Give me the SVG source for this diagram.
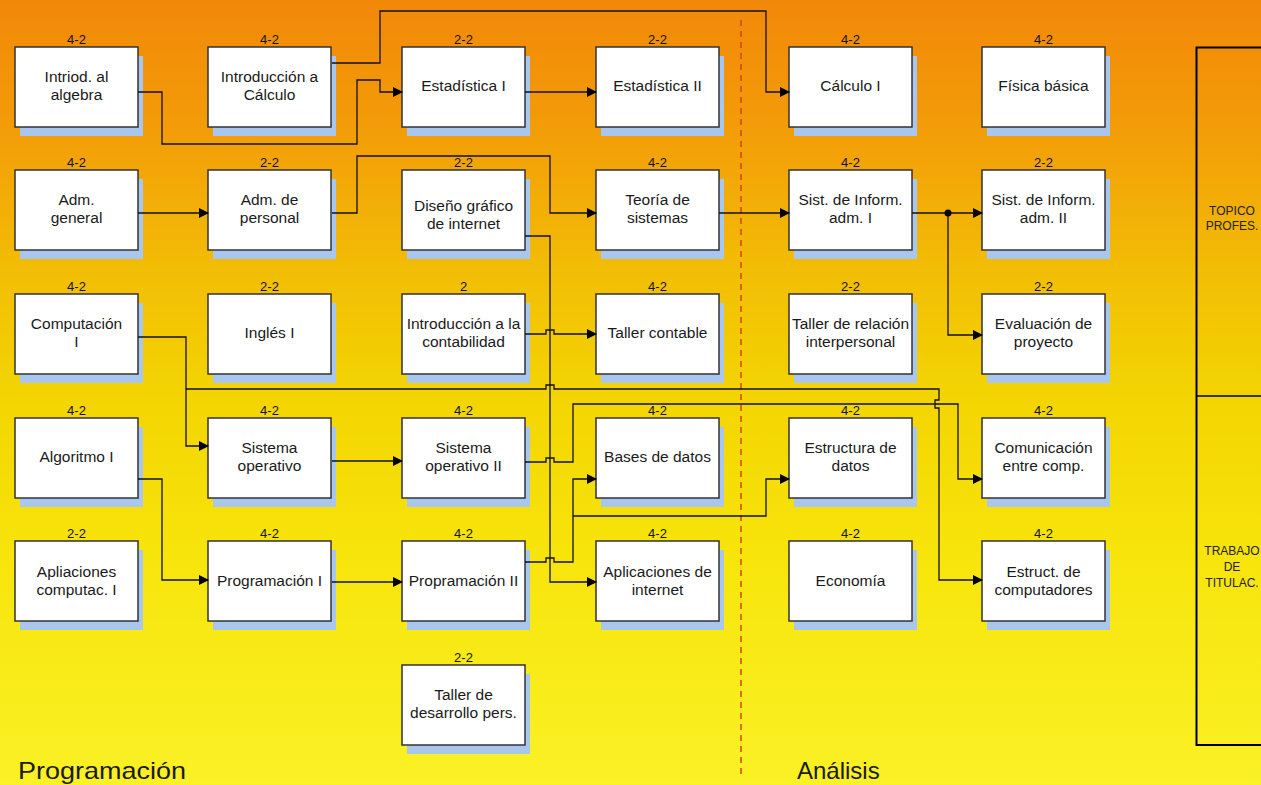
<svg xmlns="http://www.w3.org/2000/svg" width="1261" height="785" viewBox="0 0 1261 785">
<defs>
<linearGradient id="bg" x1="0" y1="0" x2="0" y2="1">
<stop offset="0" stop-color="#F28809"/>
<stop offset="0.15" stop-color="#F39A08"/>
<stop offset="0.35" stop-color="#F2BE05"/>
<stop offset="0.5" stop-color="#F3D402"/>
<stop offset="0.7" stop-color="#F7E40A"/>
<stop offset="1" stop-color="#FAF126"/>
</linearGradient>
<marker id="ar" markerWidth="10" markerHeight="10" refX="9" refY="5" orient="auto" markerUnits="userSpaceOnUse">
<path d="M0,0 L10,5 L0,10 z" fill="#000"/>
</marker>
<style>
.sh{fill:#A9C6EE}
.bx{fill:#fff;stroke:#333;stroke-width:1.5}
.t{font-family:"Liberation Sans",Arial,sans-serif;font-size:15.5px;fill:#1a1a1a;text-anchor:middle}
.n{font-family:"Liberation Sans",Arial,sans-serif;font-size:13px;fill:#111;text-anchor:middle}
.c{fill:none;stroke:#111;stroke-width:1.3}
.a{marker-end:url(#ar)}
.big{font-family:"Liberation Sans",Arial,sans-serif;font-size:24px;fill:#1a1a1a}
.p{font-family:"Liberation Sans",Arial,sans-serif;font-size:12px;fill:#222;text-anchor:middle}
</style>
</defs>
<rect width="1261" height="785" fill="url(#bg)"/>
<line x1="741" y1="20" x2="741" y2="775" stroke="#D2441E" stroke-width="1.5" stroke-dasharray="6,5"/>

<g id="n-intriod"><rect class="sh" x="20" y="56" width="123" height="80"/><rect class="bx" x="15" y="47" width="123" height="80"/><text class="n" x="76.5" y="44">4-2</text><text class="t" x="76.5" y="82">Intriod. al</text><text class="t" x="76.5" y="100">algebra</text></g>
<g id="n-introcalc"><rect class="sh" x="213" y="56" width="123" height="80"/><rect class="bx" x="208" y="47" width="123" height="80"/><text class="n" x="269.5" y="44">4-2</text><text class="t" x="269.5" y="82">Introducción a</text><text class="t" x="269.5" y="100">Cálculo</text></g>
<g id="n-est1"><rect class="sh" x="407" y="56" width="123" height="80"/><rect class="bx" x="402" y="47" width="123" height="80"/><text class="n" x="463.5" y="44">2-2</text><text class="t" x="463.5" y="91">Estadística I</text></g>
<g id="n-est2"><rect class="sh" x="601" y="56" width="123" height="80"/><rect class="bx" x="596" y="47" width="123" height="80"/><text class="n" x="657.5" y="44">2-2</text><text class="t" x="657.5" y="91">Estadística II</text></g>
<g id="n-calc1"><rect class="sh" x="794" y="56" width="123" height="80"/><rect class="bx" x="789" y="47" width="123" height="80"/><text class="n" x="850.5" y="44">4-2</text><text class="t" x="850.5" y="91">Cálculo I</text></g>
<g id="n-fisica"><rect class="sh" x="987" y="56" width="123" height="80"/><rect class="bx" x="982" y="47" width="123" height="80"/><text class="n" x="1043.5" y="44">4-2</text><text class="t" x="1043.5" y="91">Física básica</text></g>

<g id="n-admgen"><rect class="sh" x="20" y="179" width="123" height="80"/><rect class="bx" x="15" y="170" width="123" height="80"/><text class="n" x="76.5" y="167">4-2</text><text class="t" x="76.5" y="205">Adm.</text><text class="t" x="76.5" y="223">general</text></g>
<g id="n-admper"><rect class="sh" x="213" y="179" width="123" height="80"/><rect class="bx" x="208" y="170" width="123" height="80"/><text class="n" x="269.5" y="167">2-2</text><text class="t" x="269.5" y="205">Adm. de</text><text class="t" x="269.5" y="223">personal</text></g>
<g id="n-diseno"><rect class="sh" x="407" y="179" width="123" height="80"/><rect class="bx" x="402" y="170" width="123" height="80"/><text class="n" x="463.5" y="167">2-2</text><text class="t" x="463.5" y="211">Diseño gráfico</text><text class="t" x="463.5" y="229">de internet</text></g>
<g id="n-teoria"><rect class="sh" x="601" y="179" width="123" height="80"/><rect class="bx" x="596" y="170" width="123" height="80"/><text class="n" x="657.5" y="167">4-2</text><text class="t" x="657.5" y="205">Teoría de</text><text class="t" x="657.5" y="223">sistemas</text></g>
<g id="n-sist1"><rect class="sh" x="794" y="179" width="123" height="80"/><rect class="bx" x="789" y="170" width="123" height="80"/><text class="n" x="850.5" y="167">4-2</text><text class="t" x="850.5" y="205">Sist. de Inform.</text><text class="t" x="850.5" y="223">adm. I</text></g>
<g id="n-sist2"><rect class="sh" x="987" y="179" width="123" height="80"/><rect class="bx" x="982" y="170" width="123" height="80"/><text class="n" x="1043.5" y="167">2-2</text><text class="t" x="1043.5" y="205">Sist. de Inform.</text><text class="t" x="1043.5" y="223">adm. II</text></g>

<g id="n-comp1"><rect class="sh" x="20" y="303" width="123" height="80"/><rect class="bx" x="15" y="294" width="123" height="80"/><text class="n" x="76.5" y="291">4-2</text><text class="t" x="76.5" y="329">Computación</text><text class="t" x="76.5" y="347">I</text></g>
<g id="n-ingles"><rect class="sh" x="213" y="303" width="123" height="80"/><rect class="bx" x="208" y="294" width="123" height="80"/><text class="n" x="269.5" y="291">2-2</text><text class="t" x="269.5" y="338">Inglés I</text></g>
<g id="n-contab"><rect class="sh" x="407" y="303" width="123" height="80"/><rect class="bx" x="402" y="294" width="123" height="80"/><text class="n" x="463.5" y="291">2</text><text class="t" x="463.5" y="329">Introducción a la</text><text class="t" x="463.5" y="347">contabilidad</text></g>
<g id="n-tallcont"><rect class="sh" x="601" y="303" width="123" height="80"/><rect class="bx" x="596" y="294" width="123" height="80"/><text class="n" x="657.5" y="291">4-2</text><text class="t" x="657.5" y="338">Taller contable</text></g>
<g id="n-tallrel"><rect class="sh" x="794" y="303" width="123" height="80"/><rect class="bx" x="789" y="294" width="123" height="80"/><text class="n" x="850.5" y="291">2-2</text><text class="t" x="850.5" y="329">Taller de relación</text><text class="t" x="850.5" y="347">interpersonal</text></g>
<g id="n-evalua"><rect class="sh" x="987" y="303" width="123" height="80"/><rect class="bx" x="982" y="294" width="123" height="80"/><text class="n" x="1043.5" y="291">2-2</text><text class="t" x="1043.5" y="329">Evaluación de</text><text class="t" x="1043.5" y="347">proyecto</text></g>

<g id="n-algo"><rect class="sh" x="20" y="427" width="123" height="80"/><rect class="bx" x="15" y="418" width="123" height="80"/><text class="n" x="76.5" y="415">4-2</text><text class="t" x="76.5" y="462">Algoritmo I</text></g>
<g id="n-so1"><rect class="sh" x="213" y="427" width="123" height="80"/><rect class="bx" x="208" y="418" width="123" height="80"/><text class="n" x="269.5" y="415">4-2</text><text class="t" x="269.5" y="453">Sistema</text><text class="t" x="269.5" y="471">operativo</text></g>
<g id="n-so2"><rect class="sh" x="407" y="427" width="123" height="80"/><rect class="bx" x="402" y="418" width="123" height="80"/><text class="n" x="463.5" y="415">4-2</text><text class="t" x="463.5" y="453">Sistema</text><text class="t" x="463.5" y="471">operativo II</text></g>
<g id="n-bases"><rect class="sh" x="601" y="427" width="123" height="80"/><rect class="bx" x="596" y="418" width="123" height="80"/><text class="n" x="657.5" y="415">4-2</text><text class="t" x="657.5" y="462">Bases de datos</text></g>
<g id="n-estruc"><rect class="sh" x="794" y="427" width="123" height="80"/><rect class="bx" x="789" y="418" width="123" height="80"/><text class="n" x="850.5" y="415">4-2</text><text class="t" x="850.5" y="453">Estructura de</text><text class="t" x="850.5" y="471">datos</text></g>
<g id="n-comun"><rect class="sh" x="987" y="427" width="123" height="80"/><rect class="bx" x="982" y="418" width="123" height="80"/><text class="n" x="1043.5" y="415">4-2</text><text class="t" x="1043.5" y="453">Comunicación</text><text class="t" x="1043.5" y="471">entre comp.</text></g>

<g id="n-aplic"><rect class="sh" x="20" y="550" width="123" height="80"/><rect class="bx" x="15" y="541" width="123" height="80"/><text class="n" x="76.5" y="538">2-2</text><text class="t" x="76.5" y="577">Apliaciones</text><text class="t" x="76.5" y="595">computac. I</text></g>
<g id="n-prog1"><rect class="sh" x="213" y="550" width="123" height="80"/><rect class="bx" x="208" y="541" width="123" height="80"/><text class="n" x="269.5" y="538">4-2</text><text class="t" x="269.5" y="586">Programación I</text></g>
<g id="n-prog2"><rect class="sh" x="407" y="550" width="123" height="80"/><rect class="bx" x="402" y="541" width="123" height="80"/><text class="n" x="463.5" y="538">4-2</text><text class="t" x="463.5" y="586">Propramación II</text></g>
<g id="n-aplint"><rect class="sh" x="601" y="550" width="123" height="80"/><rect class="bx" x="596" y="541" width="123" height="80"/><text class="n" x="657.5" y="538">4-2</text><text class="t" x="657.5" y="577">Aplicaciones de</text><text class="t" x="657.5" y="595">internet</text></g>
<g id="n-econ"><rect class="sh" x="794" y="550" width="123" height="80"/><rect class="bx" x="789" y="541" width="123" height="80"/><text class="n" x="850.5" y="538">4-2</text><text class="t" x="850.5" y="586">Economía</text></g>
<g id="n-estcomp"><rect class="sh" x="987" y="550" width="123" height="80"/><rect class="bx" x="982" y="541" width="123" height="80"/><text class="n" x="1043.5" y="538">4-2</text><text class="t" x="1043.5" y="577">Estruct. de</text><text class="t" x="1043.5" y="595">computadores</text></g>

<g id="n-tallerdes"><rect class="sh" x="407" y="674" width="123" height="80"/><rect class="bx" x="402" y="665" width="123" height="80"/><text class="n" x="463.5" y="662">2-2</text><text class="t" x="463.5" y="700">Taller de</text><text class="t" x="463.5" y="718">desarrollo pers.</text></g>

<g id="n-panel">
<rect x="1196.5" y="47.5" width="80" height="697.5" fill="none" stroke="#000" stroke-width="2"/>
<line x1="1196.5" y1="396" x2="1261" y2="396" stroke="#000" stroke-width="1.5"/>
<text class="p" x="1232" y="215">TOPICO</text><text class="p" x="1232" y="230">PROFES.</text>
<text class="p" x="1232" y="555">TRABAJO</text><text class="p" x="1232" y="571">DE</text><text class="p" x="1232" y="587">TITULAC.</text>
</g>

<g id="connectors">
<path class="c a" d="M138,92 H162 V144 H357 V80 H380 V92 H402"/>
<path class="c a" d="M332,63 H380 V11 H766 V92 H789"/>
<path class="c a" d="M525,92 H596"/>
<path class="c a" d="M138,213 H208"/>
<path class="c a" d="M332,213 H357 V156 H550 V213 H596"/>
<path class="c a" d="M525,236 H550 V582 H596"/>
<path class="c a" d="M525,334 H546 V330 H554 V334 H596"/>
<path class="c a" d="M138,337 H186 V446 H208"/>
<path class="c a" d="M186,389 H546 V385 H554 V389 H939 V400 H935 V408 H939 V580 H982"/>
<path class="c a" d="M332,461 H402"/>
<path class="c a" d="M525,462 H546 V458 H554 V462 H573 V404 H958 V479 H982"/>
<path class="c a" d="M138,479 H162 V580 H208"/>
<path class="c a" d="M332,582 H402"/>
<path class="c a" d="M525,562 H546 V558 H554 V562 H573 V479 H596"/>
<path class="c a" d="M573,516 H766 V479 H789"/>
<path class="c a" d="M719,213 H789"/>
<path class="c a" d="M912,213 H982"/>
<path class="c a" d="M948,213 V335 H982"/>
<circle cx="948" cy="213" r="3.5" fill="#000"/>
</g>

<text class="big" x="18" y="779" textLength="168" lengthAdjust="spacingAndGlyphs">Programación</text>
<text class="big" x="797" y="779">Análisis</text>
</svg>
